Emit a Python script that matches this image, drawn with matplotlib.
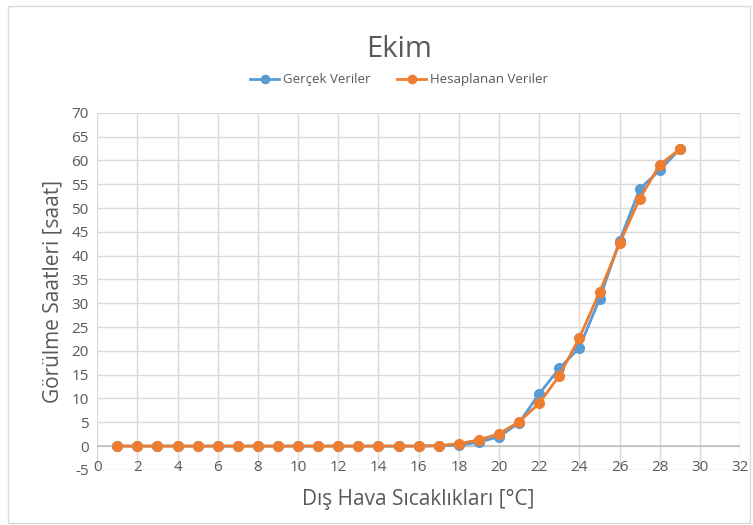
import numpy as np
import matplotlib
matplotlib.use("Agg")
import matplotlib.pyplot as plt
from matplotlib.patches import Rectangle

BLUE = "#5B9BD5"; ORANGE = "#ED7D31"; GRID = "#D9D9D9"; TXT = "#595959"
plt.rcParams['font.family'] = ['Open Sans', 'DejaVu Sans']
plt.rcParams['axes.unicode_minus'] = False

sicaklik = list(range(1, 30))
gercek = [0]*16 + [0.05, 0.2, 0.8, 2.0, 4.9, 11.0, 16.3, 20.7, 30.9, 43.1, 54.0, 58.0, 62.4]
hesap = [0]*16 + [0.1, 0.5, 1.3, 2.6, 5.1, 9.0, 14.8, 22.8, 32.3, 42.6, 52.0, 59.1, 62.4]

fig = plt.figure(figsize=(7.53, 5.25), dpi=100)
ax = fig.add_axes([0.129, 0.105, 0.854, 0.68])
fig.patches.append(Rectangle((0.011, 0.004), 0.985, 0.985, transform=fig.transFigure,
                             fill=False, edgecolor=GRID, lw=1))

ax.plot(sicaklik, gercek, color=BLUE, lw=2, marker="o", ms=7, label="Gerçek Veriler", zorder=3)
ax.plot(sicaklik, hesap, color=ORANGE, lw=2, marker="o", ms=7, label="Hesaplanan Veriler", zorder=4)

ax.set_xlim(0, 32); ax.set_ylim(-5, 70)
ax.set_xticks(range(0, 33, 2)); ax.set_yticks(range(-5, 71, 5))
ax.grid(True, color=GRID, lw=1)
ax.set_axisbelow(True)
ax.axhline(0, color="#BFBFBF", lw=1.2, zorder=2)
for s in ax.spines.values():
    s.set_visible(False)
ax.tick_params(length=0, labelsize=11, colors=TXT)
ax.tick_params(axis="x", pad=-7)
ax.tick_params(axis="y", pad=6)

ax.set_xlabel("Dış Hava Sıcaklıkları [°C]", fontsize=15, color=TXT, labelpad=10)
ax.set_ylabel("Görülme Saatleri [saat]", fontsize=15, color=TXT, labelpad=6)
fig.text(0.53, 0.905, "Ekim", fontsize=21, color=TXT, ha="center", va="center")
fig.legend(loc="center", bbox_to_anchor=(0.53, 0.848), ncol=2, frameon=False,
           fontsize=9.5, labelcolor=TXT, handlelength=2.2, columnspacing=2.0,
           handletextpad=0.3, markerscale=0.85)

fig.savefig("out.png", dpi=100, facecolor="white")
